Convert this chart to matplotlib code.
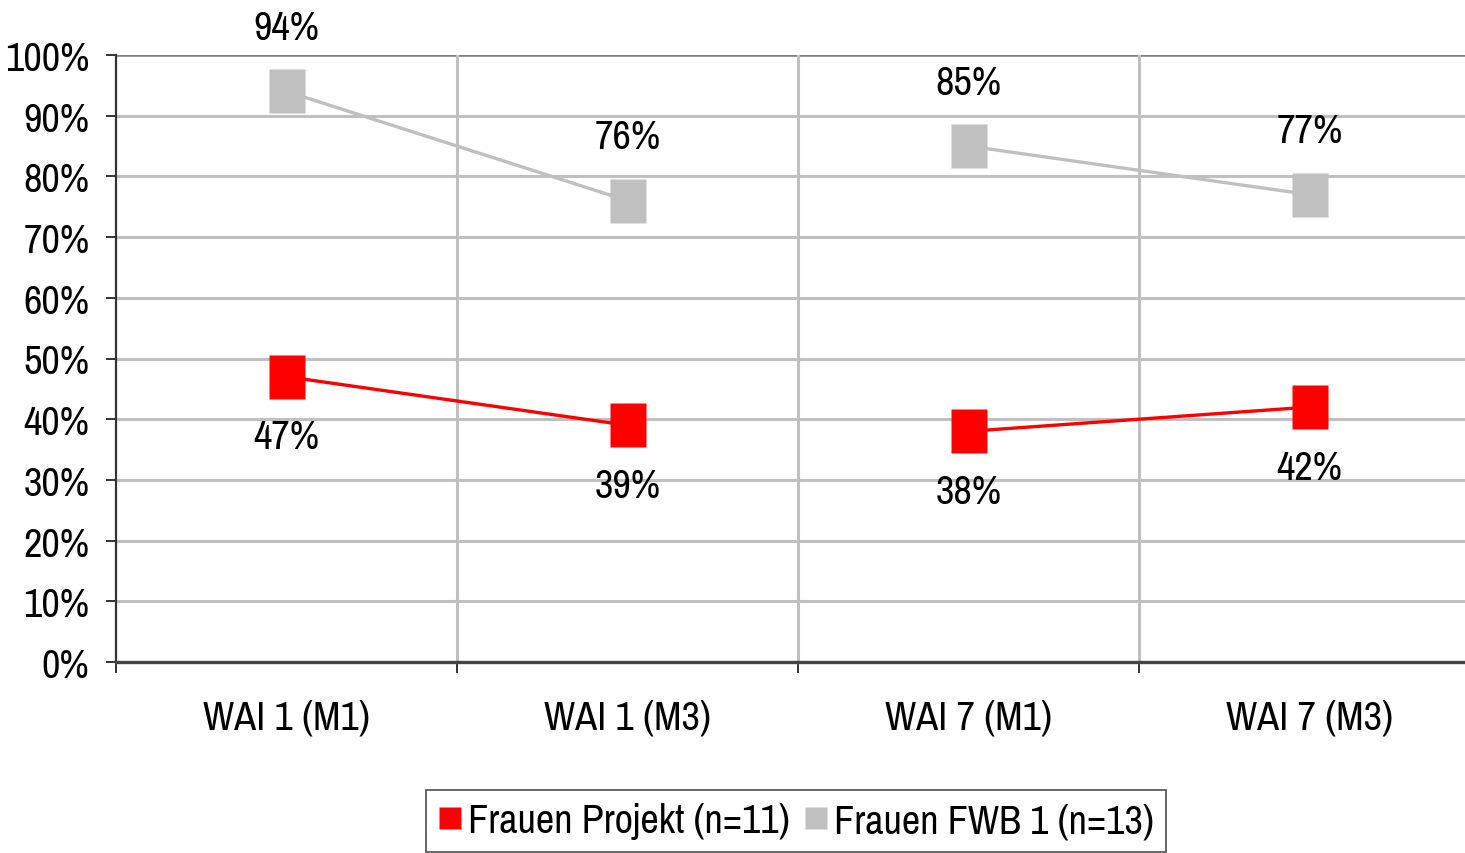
import matplotlib
matplotlib.use("Agg")
import matplotlib.pyplot as plt
from matplotlib import font_manager
from matplotlib.lines import Line2D

categories = ["WAI 1 (M1)", "WAI 1 (M3)", "WAI 7 (M1)", "WAI 7 (M3)"]
projekt = [47, 39, 38, 42]
fwb = [94, 76, 85, 77]
series_names = ["Frauen Projekt (n=11)", "Frauen FWB 1 (n=13)"]
yticks = [0, 10, 20, 30, 40, 50, 60, 70, 80, 90, 100]
ytick_labels = [f"{v}%" for v in yticks]

# prefer a narrow sans face when one is installed
available = sorted({f.name for f in font_manager.fontManager.ttflist})
narrow = [n for n in available if "Narrow" in n or "Condensed" in n]
FONT = narrow[0] if narrow else "Liberation Sans"
plt.rcParams["font.family"] = [FONT, "DejaVu Sans"]
FS = 25 if not narrow else 29

W, H = 1465, 854
fig = plt.figure(figsize=(W / 100, H / 100), dpi=100)
x0, x1 = 116, 1480
y_top, y_bot = 56, 663
ax = fig.add_axes([x0 / W, 1 - y_bot / H, (x1 - x0) / W, (y_bot - y_top) / H])
ax.set_xlim(-0.5, 3.5)
ax.set_ylim(0, 100)

GRID = "#c0c0c0"
RED = "#ff0000"
GRAY = "#c0c0c0"

# horizontal grid
for v in yticks[1:-1]:
    ax.axhline(v, color=GRID, lw=2.2, zorder=1)
ax.axhline(100, color="#808080", lw=2.6, zorder=1)
# vertical separators between categories
for b in [0.5, 1.5, 2.5]:
    ax.axvline(b, color=GRID, lw=2.2, zorder=1)

for s in ["top", "right"]:
    ax.spines[s].set_visible(False)
ax.spines["left"].set_color("#333333")
ax.spines["bottom"].set_color("#444444")
ax.spines["left"].set_linewidth(1.6)
ax.spines["bottom"].set_linewidth(2.4)

ax.set_yticks(yticks)
ax.set_yticklabels(ytick_labels, fontsize=FS)
ax.tick_params(axis="y", length=7, width=1.4, color="#333333", pad=12)

# category tick marks at boundaries, labels at centers
ax.set_xticks([-0.5, 0.5, 1.5, 2.5, 3.5])
ax.set_xticklabels([])
ax.tick_params(axis="x", length=8, width=1.4, color="#333333")
xs = list(range(len(categories)))
for xi, lab in zip(xs, categories):
    ax.annotate(lab, xy=(xi, 0), xycoords="data", xytext=(0, -55),
                textcoords="offset pixels", ha="center", va="center",
                fontsize=FS, annotation_clip=False)

# marker: slightly taller than wide
rect = [(-0.42, -0.5), (0.42, -0.5), (0.42, 0.5), (-0.42, 0.5), (-0.42, -0.5)]
MS = 31.5

for seg in [(0, 2), (2, 4)]:
    sx = xs[seg[0]:seg[1]]
    ax.plot(sx, fwb[seg[0]:seg[1]], color=GRAY, lw=2.4, zorder=3)
    ax.plot(sx, projekt[seg[0]:seg[1]], color=RED, lw=2.4, zorder=3)
ax.plot(xs, fwb, ls="none", marker=rect, ms=MS, mfc=GRAY, mec="none", zorder=4)
ax.plot(xs, projekt, ls="none", marker=rect, ms=MS, mfc=RED, mec="none", zorder=4)

for xi, v in zip(xs, fwb):
    ax.annotate(f"{v}%", xy=(xi, v), xytext=(0, 64), textcoords="offset pixels",
                ha="center", va="center", fontsize=FS, annotation_clip=False)
for xi, v in zip(xs, projekt):
    ax.annotate(f"{v}%", xy=(xi, v), xytext=(0, -60), textcoords="offset pixels",
                ha="center", va="center", fontsize=FS, annotation_clip=False)

handles = [Line2D([], [], ls="none", marker="s", ms=16, mfc=RED, mec="none"),
           Line2D([], [], ls="none", marker="s", ms=16, mfc=GRAY, mec="none")]
leg = fig.legend(handles, series_names, loc="center", bbox_to_anchor=(796 / W, 1 - 822 / H),
                 ncol=2, fontsize=FS, frameon=True, fancybox=False, handlelength=0.6,
                 handletextpad=0.15, columnspacing=0.35, borderpad=0.3, borderaxespad=0)
leg.get_frame().set_edgecolor("#222222")
leg.get_frame().set_linewidth(1.2)

fig.savefig("out.png", dpi=100)
